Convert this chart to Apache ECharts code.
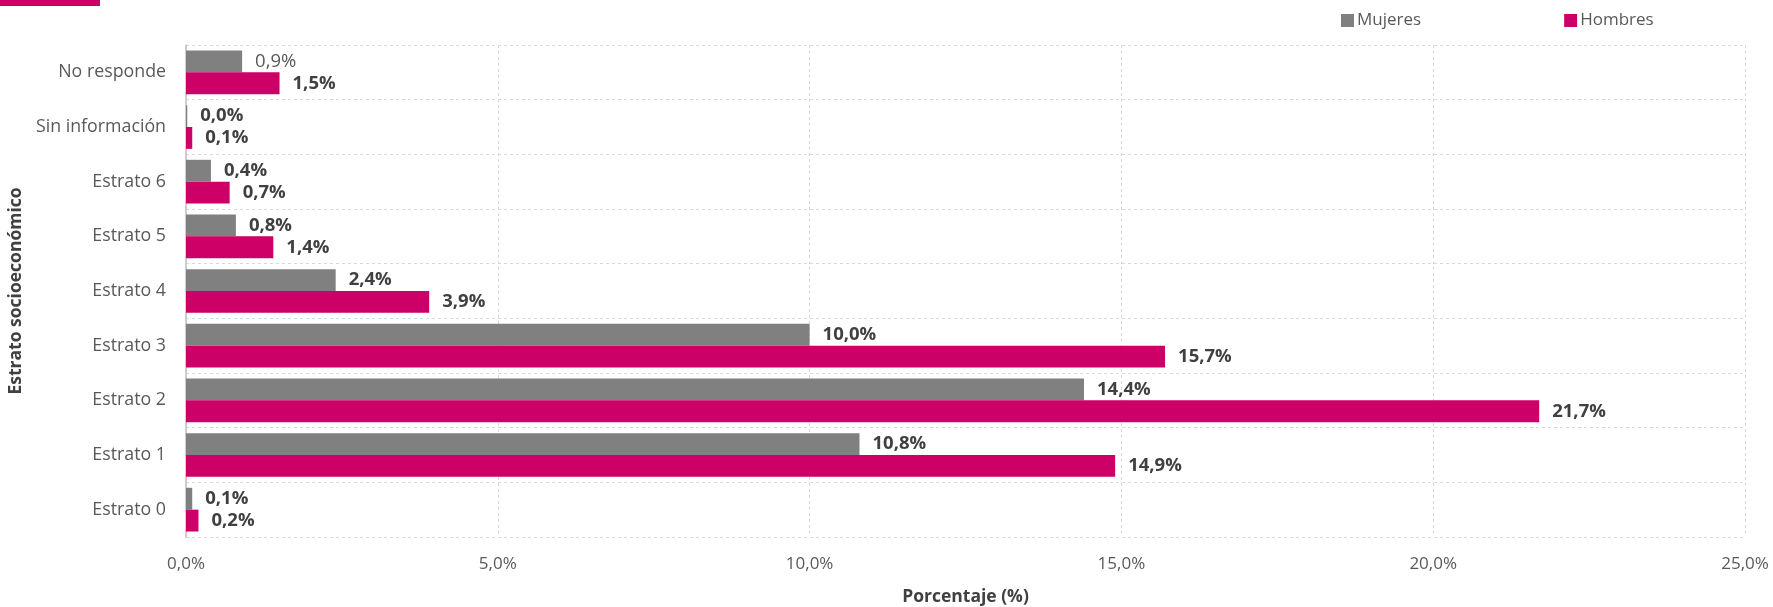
<!DOCTYPE html>
<html>
<head>
<meta charset="utf-8">
<script src="https://cdn.jsdelivr.net/npm/echarts@6/dist/echarts.min.js"></script>
<style>
html,body{margin:0;padding:0;background:#fff;}
#chart{width:1773px;height:607px;}
</style>
</head>
<body>
<div id="chart"></div>
<script>
// Data (bottom to top as on the category axis)
const categories = ['Estrato 0','Estrato 1','Estrato 2','Estrato 3','Estrato 4','Estrato 5','Estrato 6','Sin información','No responde'];
const mujeres = [0.1, 10.8, 14.4, 10.0, 2.4, 0.8, 0.4, 0.02, 0.9];
const hombres = [0.2, 14.9, 21.7, 15.7, 3.9, 1.4, 0.7, 0.1, 1.5];
const xTicks = [0, 5, 10, 15, 20, 25];

const FONT = '"Open Sans", "Noto Sans", sans-serif';
const fmt = v => v.toFixed(1).replace('.', ',') + '%';

const chart = echarts.init(document.getElementById('chart'), null, {renderer: 'canvas'});

const baseLabel = {
  show: true,
  position: 'right',
  distance: 13,
  fontFamily: FONT,
  fontSize: 18.5,
  fontWeight: 'bold',
  color: '#404040',
  formatter: p => fmt(p.value)
};

chart.setOption({
  animation: false,
  backgroundColor: '#ffffff',
  textStyle: {fontFamily: FONT},
  graphic: [{
    type: 'rect',
    left: 0, top: 0,
    shape: {width: 100, height: 6},
    style: {fill: '#CC0066'}
  }],
  legend: {
    top: 7,
    left: 1336,
    itemWidth: 13,
    itemHeight: 13,
    itemGap: 143,
    icon: 'rect',
    textStyle: {fontFamily: FONT, fontSize: 17, color: '#595959', padding: [0,0,0,-2]},
    data: ['Mujeres', 'Hombres']
  },
  grid: {left: 186, right: 28, top: 45, bottom: 70, containLabel: false, outerBoundsMode: 'none'},
  xAxis: {
    type: 'value',
    min: xTicks[0],
    max: xTicks[xTicks.length - 1],
    interval: 5,
    axisLine: {show: false},
    axisTick: {show: false},
    axisLabel: {
      formatter: v => fmt(v),
      fontFamily: FONT, fontSize: 17, color: '#595959', margin: 19
    },
    splitLine: {show: true, lineStyle: {color: '#d9d9d9', type: [3, 3], width: 1}},
    name: 'Porcentaje (%)',
    nameLocation: 'middle',
    nameGap: 51,
    nameTextStyle: {fontFamily: FONT, fontSize: 17.5, fontWeight: 'bold', color: '#404040'}
  },
  yAxis: {
    type: 'category',
    data: categories,
    axisLine: {show: true, lineStyle: {color: '#bfbfbf', width: 1.5}},
    axisTick: {show: false},
    axisLabel: {fontFamily: FONT, fontSize: 17.8, color: '#595959', margin: 20},
    splitLine: {show: true, lineStyle: {color: '#d9d9d9', type: [3, 3], width: 1}},
    name: 'Estrato socioeconómico',
    nameLocation: 'middle',
    nameGap: 154,
    nameRotate: 90,
    nameTextStyle: {fontFamily: FONT, fontSize: 17.5, fontWeight: 'bold', color: '#404040'}
  },
  series: [
    {
      name: 'Mujeres',
      type: 'bar',
      barGap: '0%',
      barCategoryGap: '20%',
      itemStyle: {color: '#808080'},
      label: baseLabel,
      data: mujeres.map((v, i) => i === mujeres.length - 1
        ? {value: v, label: {fontWeight: 'normal', color: '#595959'}}
        : v)
    },
    {
      name: 'Hombres',
      type: 'bar',
      barGap: '0%',
      barCategoryGap: '20%',
      itemStyle: {color: '#CC0066'},
      label: baseLabel,
      data: hombres
    }
  ]
});
</script>
</body>
</html>
